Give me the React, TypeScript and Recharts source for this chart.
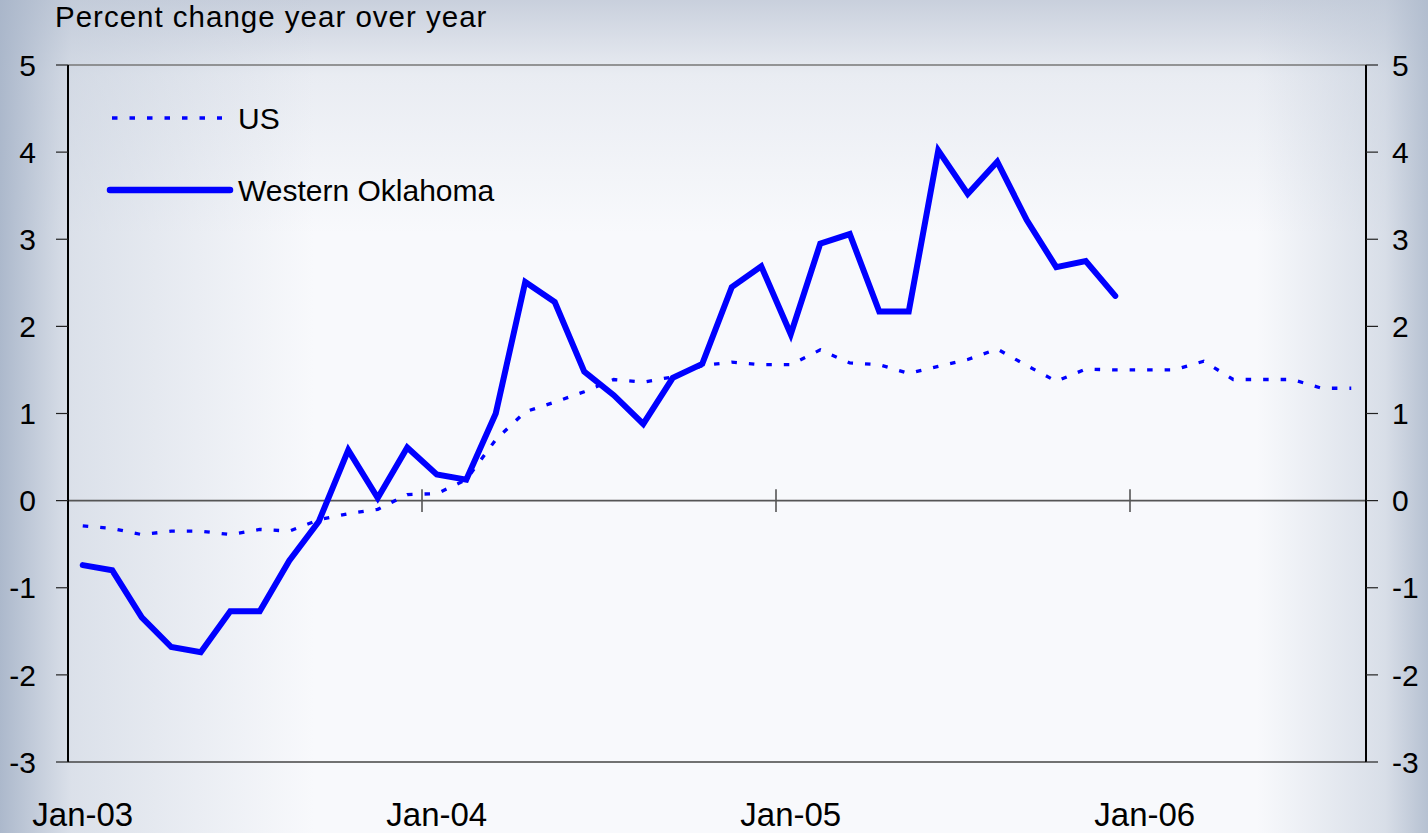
import { LineChart, Line, XAxis, YAxis, ReferenceLine, Legend } from 'recharts';

const monthNames = ['Jan', 'Feb', 'Mar', 'Apr', 'May', 'Jun', 'Jul', 'Aug', 'Sep', 'Oct', 'Nov', 'Dec'];
const yearSuffixes = ['03', '04', '05', '06'];

// Monthly categories, Jan-03 through Aug-06
const months = yearSuffixes.flatMap((yr) => monthNames.map((m) => `${m}-${yr}`)).slice(0, 44);

// Percent change year over year
const usChange = [
  -0.29, -0.32, -0.39, -0.35, -0.35, -0.39, -0.33, -0.35, -0.22, -0.15, -0.1, 0.07,
  0.08, 0.24, 0.7, 1.02, 1.13, 1.25, 1.39, 1.36, 1.42, 1.55, 1.59, 1.56,
  1.56, 1.73, 1.58, 1.56, 1.46, 1.54, 1.62, 1.74, 1.55, 1.37, 1.51, 1.5,
  1.5, 1.5, 1.6, 1.39, 1.39, 1.39, 1.29, 1.29,
];

const westernOkChange = [
  -0.74, -0.8, -1.34, -1.68, -1.74, -1.27, -1.27, -0.69, -0.24, 0.58, 0.03, 0.61,
  0.3, 0.24, 1.0, 2.51, 2.28, 1.48, 1.21, 0.88, 1.41, 1.57, 2.45, 2.69,
  1.91, 2.95, 3.06, 2.17, 2.17, 4.02, 3.52, 3.89, 3.22, 2.68, 2.75, 2.35,
];

const yTicks = [-3, -2, -1, 0, 1, 2, 3, 4, 5];
const yearStartTicks = [0, 12, 24, 36];
const yearBoundaries = [11.5, 23.5, 35.5];

const data = months.map((month, i) => ({
  idx: i,
  month,
  us: usChange[i],
  wok: i < westernOkChange.length ? westernOkChange[i] : null,
}));

const FONT = '"Liberation Sans", Arial, Helvetica, sans-serif';
const BLUE = '#0000ff';

const legendOrder = ['us', 'wok'];

function ChartLegend(props: any) {
  const items = [...(props.payload ?? [])].sort(
    (a: any, b: any) => legendOrder.indexOf(a.dataKey) - legendOrder.indexOf(b.dataKey),
  );
  return (
    <svg width={440} height={120} style={{ overflow: 'visible', fontFamily: FONT }}>
      {items.map((entry: any, i: number) => {
        const y = 18 + i * 72;
        const dotted = entry.dataKey === 'us';
        return (
          <g key={entry.dataKey}>
            <line
              x1={dotted ? 12 : 10}
              x2={dotted ? 122 : 130}
              y1={y}
              y2={y}
              stroke={BLUE}
              strokeWidth={dotted ? 3.3 : 6.5}
              strokeDasharray={dotted ? '5.5 12' : undefined}
              strokeLinecap={dotted ? 'butt' : 'round'}
            />
            <text x={138} y={y} dy="0.355em" fontSize={30} fill="#000">
              {entry.value}
            </text>
          </g>
        );
      })}
    </svg>
  );
}

export default function App() {
  return (
    <div
      style={{
        position: 'absolute',
        left: 0,
        top: 0,
        width: 1428,
        height: 833,
        overflow: 'hidden',
        fontFamily: FONT,
        background:
          'linear-gradient(to right, rgba(168,181,201,0.95) 0%, rgba(190,200,215,0.5) 5%, rgba(220,226,235,0) 22%, rgba(220,226,235,0) 88%, rgba(190,200,215,0.55) 97%, rgba(175,187,205,0.9) 100%),' +
          'linear-gradient(to bottom, rgba(185,194,210,0.75) 0%, rgba(205,212,224,0.35) 9%, rgba(230,234,241,0) 28%, rgba(230,234,241,0) 100%),' +
          '#f8f9fc',
      }}
    >
      <div
        style={{
          position: 'absolute',
          left: 55,
          top: 2,
          fontSize: 29.5,
          lineHeight: 1,
          letterSpacing: 1,
          color: '#000',
          whiteSpace: 'nowrap',
        }}
      >
        Percent change year over year
      </div>
      <LineChart
        width={1428}
        height={833}
        data={data}
        margin={{ top: 65, right: 0, bottom: 0, left: 0 }}
        style={{ position: 'absolute', left: 0, top: 0, fontFamily: FONT }}
      >
        <XAxis
          dataKey="idx"
          type="number"
          domain={[-0.5, 43.5]}
          ticks={yearStartTicks}
          interval={0}
          tickFormatter={(i: number) => months[i]}
          axisLine={false}
          tickLine={false}
          tickSize={0}
          tickMargin={41}
          height={71}
          tick={{ fontSize: 33, fill: '#000' }}
        />
        <YAxis
          yAxisId="left"
          domain={[-3, 5]}
          allowDataOverflow
          ticks={yTicks}
          interval={0}
          width={68}
          tickSize={12}
          tickMargin={20}
          axisLine={{ stroke: '#000', strokeWidth: 2 }}
          tickLine={{ stroke: '#222', strokeWidth: 1.2 }}
          tick={{ fontSize: 30, fill: '#000' }}
        />
        <YAxis
          yAxisId="right"
          orientation="right"
          domain={[-3, 5]}
          allowDataOverflow
          ticks={yTicks}
          interval={0}
          width={62}
          tickSize={12}
          tickMargin={14}
          axisLine={{ stroke: '#000', strokeWidth: 2 }}
          tickLine={{ stroke: '#222', strokeWidth: 1.2 }}
          tick={{ fontSize: 30, fill: '#000' }}
        />
        <ReferenceLine yAxisId="left" y={5} stroke="#777" strokeWidth={1.6} />
        <ReferenceLine yAxisId="left" y={-3} stroke="#444" strokeWidth={1.6} />
        <ReferenceLine yAxisId="left" y={0} stroke="#555" strokeWidth={1.6} />
        {yearBoundaries.map((b) => (
          <ReferenceLine
            key={b}
            yAxisId="left"
            segment={[
              { x: b, y: -0.13 },
              { x: b, y: 0.13 },
            ]}
            stroke="#555"
            strokeWidth={1.6}
          />
        ))}
        <Legend
          layout="horizontal"
          verticalAlign="middle"
          align="center"
          content={<ChartLegend />}
          wrapperStyle={{ left: 100, top: 100, width: 440, height: 120 }}
        />
        {/* both axes share the same -3..5 scale; US is bound to the right one */}
        <Line
          yAxisId="right"
          type="linear"
          dataKey="us"
          name="US"
          stroke={BLUE}
          strokeWidth={3.3}
          strokeDasharray="5.5 12"
          dot={false}
          activeDot={false}
          isAnimationActive={false}
        />
        <Line
          yAxisId="left"
          type="linear"
          dataKey="wok"
          name="Western Oklahoma"
          stroke={BLUE}
          strokeWidth={6}
          strokeLinecap="round"
          strokeLinejoin="miter"
          dot={false}
          activeDot={false}
          isAnimationActive={false}
        />
      </LineChart>
    </div>
  );
}
